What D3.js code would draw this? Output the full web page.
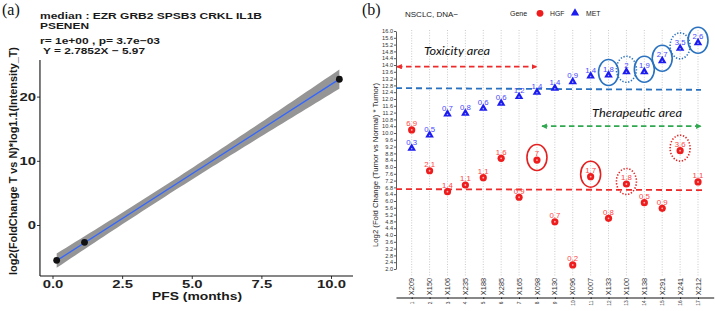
<!DOCTYPE html>
<html><head><meta charset="utf-8">
<script src="https://cdn.jsdelivr.net/npm/d3@7"></script>
<style>body{margin:0;background:#fff} svg{display:block}</style>
</head><body>
<svg id="c" width="715" height="311"></svg>
<script>
// ---------------- Panel (a) data ----------------
const pfs = [0.15, 1.15, 10.3];
const score = [-5.5, -2.7, 22.7];
const fitSlope = 2.7852, fitIntercept = -5.97;
const ciScale = 1.5;
const xTicksA = [0, 2.5, 5, 7.5, 10];
const yTicksA = [0, 10, 20];
const titleLines = ["median : EZR GRB2 SPSB3 CRKL IL1B", "PSENEN", "r= 1e+00 , p= 3.7e\u221203", " Y = 2.7852X \u2212 5.97"];

// ---------------- Panel (b) data ----------------
const samples = ["X209","X150","X106","X235","X188","X285","X165","X098","X130","X096","X007","X133","X100","X138","X291","X241","X212"];
const hgfValues = [10.18,7.78,6.55,6.94,7.37,8.51,6.22,8.41,4.78,2.24,7.43,4.98,7.0,5.9,5.57,8.96,7.12];
const hgfLabels = ["6.9","2.1","1.4","1.1","1.1","1.6","0.9","7","0.7","0.2","1.7","0.8","1.8","0.5","0.9","3.6","1.1"];
const metValues = [9.1,9.88,11.12,11.16,11.45,11.75,12.14,12.4,12.63,13.02,13.35,13.41,13.6,13.6,14.25,14.98,15.31];
const metLabels = ["0.3","0.5","0.7","0.8","0.6","0.6","1.2","1.4","1.4","0.9","1.4","1.8","2","1.9","2.7","3.5","2.6"];
const metCircledSolid = ["X133","X138","X291","X212"];
const metCircledDotted = ["X100","X241"];
const hgfCircledSolid = ["X098","X007"];
const hgfCircledDotted = ["X100","X241"];
const yTickLabelsB = ["2.0","2.4","2.8","3.2","3.6","4.0","4.4","4.8","5.2","5.6","6.0","6.4","6.8","7.2","7.6","8.0","8.4","8.8","9.2","9.6","10.0","10.4","10.8","11.2","11.6","12.0","12.4","12.8","13.2","13.6","14.0","14.4","14.8","15.2","15.6","16.0"];
const metCutoff = [12.64, 12.54];
const hgfCutoff = [6.7, 6.64];
const toxicityLevel = 13.9;
const therapeuticLevel = 10.4;

const svg = d3.select("#c");
const defs = svg.append("defs");
function arrowMarker(id, color){
  defs.append("marker").attr("id", id).attr("viewBox","0 0 10 10")
    .attr("refX",9).attr("refY",5).attr("markerWidth",3.2).attr("markerHeight",3.2)
    .attr("orient","auto-start-reverse").attr("markerUnits","strokeWidth")
    .append("path").attr("d","M0,0L10,5L0,10z").attr("fill",color);
}
arrowMarker("arR","#ee2b2b");
arrowMarker("arG","#2fa84f");

// ================= Panel (a) =================
const sxA = 1.35;
const xA = d3.scaleLinear().domain([0,10]).range([52.5,331]);
const yA = d3.scaleLinear().domain([0,20]).range([225,96.6]);
const xAext = [-0.45, 10.79], yAext = [-7.94, 25.7];
const gA = svg.append("g").attr("font-family","'Liberation Sans', Arial, sans-serif");

gA.append("text").attr("x",2).attr("y",15).attr("font-family","'Liberation Serif', 'DejaVu Serif', serif")
  .attr("font-size",16).attr("fill","#111").text("(a)");

const titleY = [19, 29.3, 44, 54];
const titleW = [222, 49, 120, 105];
titleLines.forEach((t,i)=>{
  gA.append("text").attr("x",40).attr("y",titleY[i]).attr("font-size",9.4).attr("font-weight","bold")
    .attr("fill","#1a1a1a").attr("textLength",titleW[i]).attr("lengthAdjust","spacingAndGlyphs")
    .style("white-space","pre").attr("xml:space","preserve").text(t);
});

const nA = pfs.length, xm = d3.mean(pfs), Sxx = d3.sum(pfs, v => (v-xm)**2);
const xMin = d3.min(pfs), xMax = d3.max(pfs);
const xs = d3.range(0, 61).map(i => xMin + (xMax - xMin) * i / 60);
const fit = x => fitSlope * x + fitIntercept;
const half = x => ciScale * Math.sqrt(1/nA + (x - xm)**2 / Sxx);
gA.append("path").datum(xs)
  .attr("d", d3.area().x(d=>xA(d)).y0(d=>yA(fit(d)-half(d))).y1(d=>yA(fit(d)+half(d))))
  .attr("fill","#959595");
gA.append("path").datum([xMin, xMax])
  .attr("d", d3.line().x(d=>xA(d)).y(d=>yA(fit(d))))
  .attr("stroke","#3366FF").attr("stroke-width",1.3).attr("fill","none");
gA.selectAll("circle.pt").data(pfs).join("circle")
  .attr("cx",(d)=>xA(d)).attr("cy",(d,i)=>yA(score[i])).attr("r",3.4).attr("fill","#111");

const axA = gA.append("g").attr("transform",`translate(0,${yA(yAext[0])})`)
  .call(d3.axisBottom(xA).tickValues(xTicksA).tickFormat(d3.format(".1f")).tickSize(3).tickPadding(1));
axA.select(".domain").remove();
axA.append("line").attr("x1",xA(xAext[0])).attr("x2",xA(xAext[1])).attr("stroke","#111").attr("stroke-width",1.1);
axA.selectAll(".tick line").attr("stroke","#333");
axA.selectAll(".tick text").attr("font-size",11).attr("font-weight","bold").attr("fill","#222")
  .attr("font-family","'Liberation Sans', Arial, sans-serif").attr("transform",`scale(${sxA},1)`);

const ayA = gA.append("g").attr("transform",`translate(${xA(xAext[0])},0)`)
  .call(d3.axisLeft(yA).tickValues(yTicksA).tickSize(3).tickPadding(1));
ayA.select(".domain").remove();
ayA.append("line").attr("y1",yA(yAext[0])).attr("y2",yA(yAext[1])).attr("stroke","#111").attr("stroke-width",1.1);
ayA.selectAll(".tick line").attr("stroke","#333");
ayA.selectAll(".tick text").attr("font-size",11).attr("font-weight","bold").attr("fill","#222")
  .attr("font-family","'Liberation Sans', Arial, sans-serif")
  .attr("x", -4/sxA).attr("transform",`scale(${sxA},1)`);

gA.append("text").attr("x",197).attr("y",300).attr("text-anchor","middle").attr("font-size",11.5)
  .attr("font-weight","bold").attr("fill","#1a1a1a").attr("textLength",90).attr("lengthAdjust","spacingAndGlyphs")
  .text("PFS (months)");
gA.append("text").attr("transform","translate(17,161) rotate(-90)").attr("text-anchor","middle")
  .attr("font-size",11).attr("font-weight","bold").attr("fill","#1a1a1a")
  .attr("textLength",228).attr("lengthAdjust","spacingAndGlyphs")
  .text("log2(FoldChange T vs N)*log1.1(Intensity_T)");

// ================= Panel (b) =================
const gB = svg.append("g").attr("font-family","'Liberation Sans', Arial, sans-serif");
const xB = d3.scalePoint().domain(samples).range([396, 713.7]).padding(0.877);
const yB = d3.scaleLinear().domain([2,16]).range([269,31]);
const blue = "#1c1cf0", blueLab = "#4848ff", red = "#ee1c1c", redLab = "#ff4545";
const lineBlue = "#2a72c0", lineRed = "#ee2b2b", green = "#2fa84f";

gB.append("text").attr("x",362).attr("y",15).attr("font-family","'Liberation Serif', 'DejaVu Serif', serif")
  .attr("font-size",16).attr("fill","#111").text("(b)");
gB.append("text").attr("x",405).attr("y",16.5).attr("font-size",8).attr("fill","#222").text("NSCLC, DNA\u2212");

gB.append("text").attr("x",510).attr("y",16).attr("font-size",7).attr("fill","#222").text("Gene");
gB.append("circle").attr("cx",540).attr("cy",13.3).attr("r",3.4).attr("fill",red);
gB.append("text").attr("x",550).attr("y",16).attr("font-size",6.8).attr("fill","#222").text("HGF");
gB.append("path").attr("d",d3.symbol(d3.symbolTriangle,30)()).attr("transform","translate(575,13)").attr("fill",blue);
gB.append("text").attr("x",586).attr("y",16).attr("font-size",6.8).attr("fill","#222").text("MET");

gB.selectAll("line.grid").data(samples).join("line").attr("class","grid")
  .attr("x1",d=>xB(d)).attr("x2",d=>xB(d)).attr("y1",30).attr("y2",277)
  .attr("stroke","#bdbdbd").attr("stroke-width",0.8).attr("stroke-dasharray","1,1.6");

const ayB = gB.append("g").attr("transform","translate(396,0)")
  .call(d3.axisLeft(yB).tickValues(yTickLabelsB.map(Number)).tickFormat((d,i)=>yTickLabelsB[i]).tickSize(2).tickSizeOuter(0).tickPadding(1));
ayB.select(".domain").attr("stroke","#333").attr("stroke-width",0.8);
ayB.selectAll(".tick line").attr("stroke","#333").attr("stroke-width",0.8);
ayB.selectAll(".tick text").attr("font-size",5.6).attr("fill","#333").attr("font-family","'Liberation Sans', Arial, sans-serif");

const axB = gB.append("g").attr("transform","translate(0,297.5)")
  .call(d3.axisBottom(xB).tickSize(1.5).tickSizeOuter(0).tickFormat((d,i)=>String(i+1)));
axB.select(".domain").attr("stroke","#111").attr("stroke-width",1.2);
axB.selectAll(".tick line").attr("stroke","#111");
axB.selectAll(".tick text").attr("font-size",4.8).attr("fill","#333").attr("font-family","'Liberation Sans', Arial, sans-serif")
  .attr("y",0).attr("dy","0.32em").attr("text-anchor","middle").attr("transform","translate(0,5.5) rotate(-90)");

gB.selectAll("text.cat").data(samples).join("text").attr("class","cat")
  .attr("transform",d=>`translate(${xB(d)+2.6},286.5) rotate(-90)`).attr("text-anchor","middle")
  .attr("font-size",7.4).attr("fill","#333").text(d=>d);

gB.append("text").attr("transform","translate(378,165) rotate(-90)").attr("text-anchor","middle")
  .attr("font-size",7.8).attr("fill","#222").attr("textLength",164).attr("lengthAdjust","spacingAndGlyphs")
  .text("Log2 (Fold Change (Tumor vs Normal) * Tumor)");

const x0B = 396, x1B = 701;
gB.append("line").attr("x1",x0B).attr("x2",x1B).attr("y1",yB(metCutoff[0])).attr("y2",yB(metCutoff[1]))
  .attr("stroke",lineBlue).attr("stroke-width",1.8).attr("stroke-dasharray","6,4");
gB.append("line").attr("x1",x0B).attr("x2",x1B+1).attr("y1",yB(hgfCutoff[0])).attr("y2",yB(hgfCutoff[1]))
  .attr("stroke",lineRed).attr("stroke-width",1.8).attr("stroke-dasharray","6,4");

gB.append("line").attr("x1",x0B+1).attr("x2",xB("X098")-0.5).attr("y1",yB(toxicityLevel)).attr("y2",yB(toxicityLevel))
  .attr("stroke",lineRed).attr("stroke-width",1.7).attr("stroke-dasharray","5.5,3.5")
  .attr("marker-start","url(#arR)").attr("marker-end","url(#arR)");
gB.append("line").attr("x1",xB("X098")+5).attr("x2",xB("X212")+3).attr("y1",yB(therapeuticLevel)).attr("y2",yB(therapeuticLevel))
  .attr("stroke",green).attr("stroke-width",1.7).attr("stroke-dasharray","5.5,3.5")
  .attr("marker-start","url(#arG)").attr("marker-end","url(#arG)");

gB.append("text").attr("x",424).attr("y",55).attr("font-family","Lato, 'Open Sans', sans-serif").attr("font-style","italic")
  .attr("font-size",12).attr("fill","#111").attr("textLength",66).attr("lengthAdjust","spacingAndGlyphs").text("Toxicity area");
gB.append("text").attr("x",592).attr("y",117).attr("font-family","Lato, 'Open Sans', sans-serif").attr("font-style","italic")
  .attr("font-size",12).attr("fill","#111").attr("textLength",90).attr("lengthAdjust","spacingAndGlyphs").text("Therapeutic area");

gB.selectAll("circle.hgf").data(samples).join("circle").attr("class","hgf")
  .attr("cx",d=>xB(d)).attr("cy",(d,i)=>yB(hgfValues[i])).attr("r",3.6).attr("fill",red);
gB.selectAll("circle.hgfc").data(samples).join("circle").attr("class","hgfc")
  .attr("cx",d=>xB(d)).attr("cy",(d,i)=>yB(hgfValues[i])).attr("r",0.9).attr("fill","#ffb0b0");
gB.selectAll("text.hgfl").data(samples).join("text").attr("class","hgfl")
  .attr("x",d=>xB(d)).attr("y",(d,i)=>yB(hgfValues[i])-3.6).attr("text-anchor","middle")
  .attr("font-size",7.8).attr("fill",redLab).text((d,i)=>hgfLabels[i]);

gB.selectAll("path.met").data(samples).join("path").attr("class","met")
  .attr("d",d3.symbol(d3.symbolTriangle,32)())
  .attr("transform",(d,i)=>`translate(${xB(d)},${yB(metValues[i])})`).attr("fill",blue);
gB.selectAll("circle.metc").data(samples).join("circle").attr("class","metc")
  .attr("cx",d=>xB(d)).attr("cy",(d,i)=>yB(metValues[i])+0.5).attr("r",0.8).attr("fill","#b0b0ff");
gB.selectAll("text.metl").data(samples).join("text").attr("class","metl")
  .attr("x",d=>xB(d)).attr("y",(d,i)=>yB(metValues[i])-3.4).attr("text-anchor","middle")
  .attr("font-size",7.8).attr("fill",blueLab).text((d,i)=>metLabels[i]);

function ellipses(list, values, color, dotted){
  gB.selectAll(null).data(list).join("ellipse")
    .attr("cx",d=>xB(d)).attr("cy",d=>yB(values[samples.indexOf(d)])-2.5)
    .attr("rx",10).attr("ry",13).attr("fill","none").attr("stroke",color).attr("stroke-width",1.6)
    .attr("stroke-dasharray",dotted ? "1.3,1.7" : null);
}
ellipses(metCircledSolid, metValues, lineBlue, false);
ellipses(metCircledDotted, metValues, lineBlue, true);
ellipses(hgfCircledSolid, hgfValues, "#e52020", false);
ellipses(hgfCircledDotted, hgfValues, "#e52020", true);
</script>
</body></html>
